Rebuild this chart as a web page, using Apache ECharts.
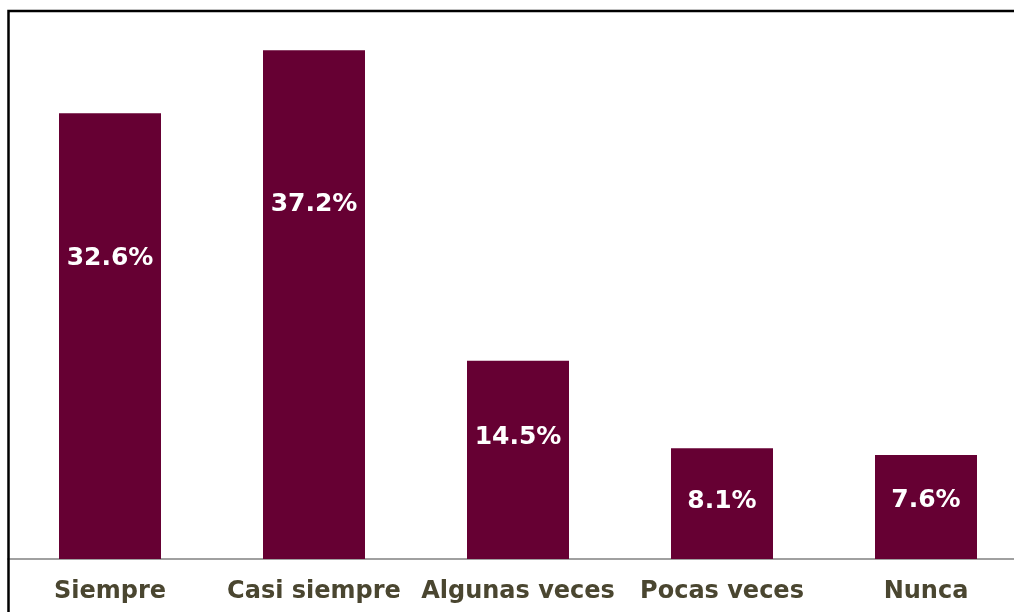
<!DOCTYPE html>
<html>
<head>
<meta charset="utf-8">
<script src="https://cdn.jsdelivr.net/npm/echarts@6/dist/echarts.min.js"></script>
<style>
html, body { margin: 0; padding: 0; background: #fff; }
#myChart { width: 1014px; height: 612px; }
</style>
</head>
<body>
<div id="myChart"></div>
<script>
// categorias y valores (%)
const categories = ['Siempre', 'Casi siempre', 'Algunas veces', 'Pocas veces', 'Nunca']
const values = [32.6, 37.2, 14.5, 8.1, 7.6]
// altura relativa de la etiqueta dentro de cada barra
const labelPos = ['32.5%', '30.4%', '38.5%', '47.7%', '44%']

let myChart = echarts.init(document.getElementById('myChart'))
myChart.setOption({
  animation: false,
  grid: { left: 8, width: 1020, top: 12, bottom: 53, containLabel: false, outerBoundsMode: 'none' },
  graphic: [
    {
      type: 'polyline',
      shape: { points: [[8.5, 612], [8.5, 11], [1020, 11]] },
      style: { stroke: '#000', lineWidth: 2.5, fill: null },
      z: 100
    }
  ],
  xAxis: {
    type: 'category',
    data: categories,
    axisLine: { lineStyle: { color: '#a0a0a0', width: 2 } },
    axisTick: { show: false },
    axisLabel: {
      color: '#4a4630',
      fontFamily: 'DejaVu Sans',
      fontWeight: 'bold',
      fontSize: 24,
      margin: 21,
      interval: 0
    }
  },
  yAxis: {
    type: 'value',
    min: 0,
    max: 40,
    show: false,
    splitLine: { show: false }
  },
  series: [
    {
      type: 'bar',
      barWidth: '50%',
      itemStyle: { color: '#660033' },
      data: values.map((v, i) => ({
        value: v,
        label: { position: ['50%', labelPos[i]] }
      })),
      label: {
        show: true,
        color: '#fff',
        fontFamily: 'DejaVu Sans',
        fontWeight: 'bold',
        fontSize: 25,
        align: 'center',
        verticalAlign: 'middle',
        formatter: p => p.value.toFixed(1) + '%'
      }
    }
  ]
})
</script>
</body>
</html>
